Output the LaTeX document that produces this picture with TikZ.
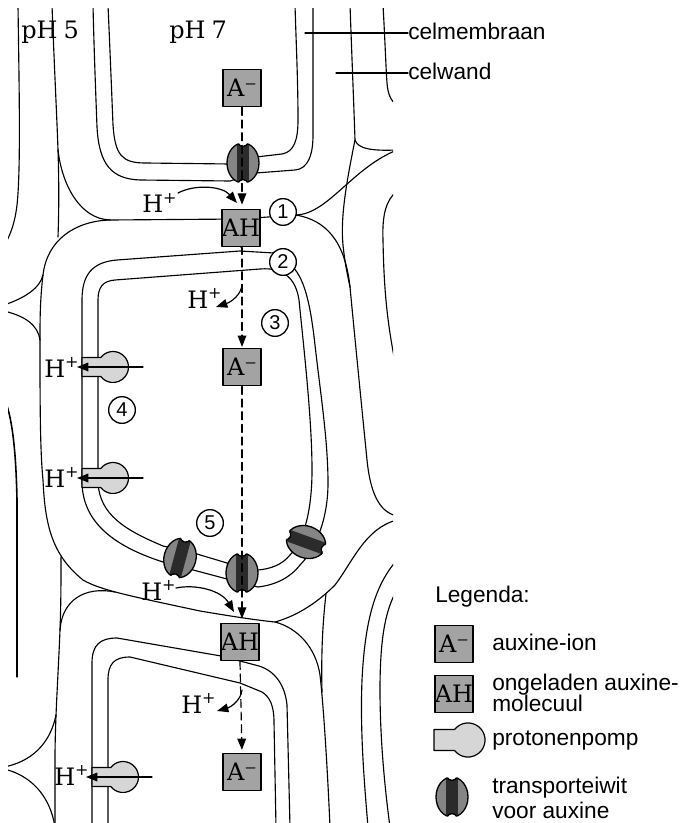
\documentclass[tikz,border=0pt]{standalone}
\usepackage{fontspec}
\setmainfont{DejaVu Serif}
\setsansfont{Liberation Sans}
\usetikzlibrary{arrows.meta}
\definecolor{boxgray}{gray}{0.64}
\definecolor{pgray}{gray}{0.84}
\definecolor{tgray}{gray}{0.52}
\definecolor{tdark}{gray}{0.17}
\newcommand{\Hplus}{H\raisebox{0.4em}{\fontsize{12}{12}\selectfont +}}
\newcommand{\transp}[2]{%
  \begin{scope}[shift={#1},rotate=#2]
    \fill[tgray] (0,0) ellipse [x radius=16,y radius=20];
    \begin{scope}
      \clip (0,0) ellipse [x radius=16,y radius=20];
      \fill[tdark] (-6,-22) rectangle (6,22);
    \end{scope}
    \draw[line width=1pt] (0,0) ellipse [x radius=16,y radius=20];
    \fill[white] (0,-21) ellipse [x radius=5,y radius=4.5];
    \fill[white] (0,21) ellipse [x radius=5,y radius=4.5];
    \begin{scope}
      \clip (0,0) ellipse [x radius=16,y radius=20];
      \draw[line width=1pt] (0,-21) ellipse [x radius=5,y radius=4.5];
      \draw[line width=1pt] (0,21) ellipse [x radius=5,y radius=4.5];
    \end{scope}
  \end{scope}}
\newcommand{\pumpshape}[2]{%
  \begin{scope}[shift={#1},scale=#2]
    \filldraw[fill=pgray,line width=0.9pt] (-31,-9.5) -- (-12.25,-9.5)
      arc[start angle=-142.2,end angle=142.2,radius=15.5] -- (-31,9.5) -- cycle;
  \end{scope}}
\begin{document}
\begin{tikzpicture}[x=0.75pt,y=-0.75pt,line cap=round,line join=round,
  cell/.style={line width=0.85pt},
  abox/.style={draw,line width=1.1pt,fill=boxgray,minimum width=28.5pt,minimum height=28pt,inner sep=0pt,font=\fontsize{18}{18}\selectfont},
  num/.style={circle,draw,fill=white,line width=1pt,minimum size=20pt,inner sep=0pt,font=\sffamily\fontsize{15}{15}\selectfont},
  hlab/.style={inner sep=0pt,anchor=base west,font=\fontsize{18}{18}\selectfont},
  slab/.style={inner sep=0pt,anchor=base west,font=\sffamily\fontsize{17}{17}\selectfont},
  arr/.style={-{Triangle[length=8.5pt,width=6.5pt]},line width=0.9pt},
  dsh/.style={dash pattern=on 6pt off 3.5pt,line width=0.9pt}]
\useasboundingbox (0,0) rectangle (683,823);

\begin{scope}
\clip (8,9) rectangle (393,823);
% far left
\draw[cell] (18,5) .. controls (19,80) and (21,170) .. (17,205) .. controls (15,222) and (11,234) .. (4,246);
\draw[cell,line width=1.2pt] (4,398) .. controls (12,415) and (16,450) .. (17,500) -- (17,607);
\draw[cell] (17,607) -- (17,677);
% upper cell wall, intercellular spaces
\draw[cell] (52,5) .. controls (54,60) and (57,120) .. (58,150) .. controls (59,180) and (59,210) .. (58,237);
\draw[cell] (58,150) .. controls (62,185) and (80,219) .. (110,220) -- (240,219) -- (296,215);
\draw[cell] (296,215) .. controls (328,214) and (352,168) .. (397,150);
\draw[cell] (296,215) .. controls (325,220) and (345,240) .. (350,287);
\draw[cell] (350,5) .. controls (352,60) and (354,110) .. (355,140) .. controls (358,149) and (372,151) .. (397,150);
\draw[cell] (355,140) .. controls (348,175) and (340,215) .. (343,245) .. controls (345,265) and (348,277) .. (350,287);
\draw[cell] (350,287) .. controls (356,350) and (364,430) .. (367,460) .. controls (370,490) and (378,512) .. (397,516);
\draw[cell] (383,5) .. controls (385,40) and (386,70) .. (387,83) .. controls (388,95) and (391,101) .. (397,105);
\draw[cell] (397,191) .. controls (386,200) and (382,215) .. (383,240) .. controls (384,300) and (389,330) .. (395,362);
% upper cell membrane
\draw[cell] (108,5) .. controls (110,50) and (112,100) .. (113,125) .. controls (115,155) and (122,163) .. (145,163) -- (230,164) -- (256,157) -- (282,154) .. controls (294,152) and (298,140) .. (298,120) .. controls (298,80) and (296,40) .. (295,5);
\draw[cell] (93,5) .. controls (94,50) and (96,100) .. (97,127) .. controls (99,165) and (112,179) .. (140,180) -- (230,181) -- (256,173) -- (295,170) .. controls (308,169) and (313,155) .. (313,135) -- (313,5);
% middle cell wall
\draw[cell] (110,220) .. controls (75,221) and (47,240) .. (43,275) .. controls (40,300) and (40,320) .. (40,340) .. controls (40,400) and (40,450) .. (43,480) .. controls (45,525) and (52,555) .. (83,580) .. controls (100,590) and (130,596) .. (200,611) .. controls (230,616) and (255,620) .. (275,622) .. controls (300,615) and (320,600) .. (335,585) .. controls (352,563) and (365,528) .. (397,520);
\draw[cell] (61,557) .. controls (61,580) and (61,605) .. (60,630);
\draw[cell] (4,305) .. controls (25,298) and (40,288) .. (43,275);
\draw[cell] (4,311) .. controls (25,316) and (38,325) .. (40,340);
% bottom cell wall
\draw[cell] (115,592) .. controls (85,586) and (62,600) .. (60,630) .. controls (58,680) and (55,720) .. (55,760) -- (55,827);
\draw[cell] (4,767) .. controls (30,762) and (50,745) .. (56,715);
\draw[cell] (4,769) .. controls (30,775) and (50,795) .. (55,827);
\draw[cell] (326,594) .. controls (323,620) and (321,650) .. (322,692);
\draw[cell] (275,622) .. controls (298,628) and (316,648) .. (320,675) .. controls (324,710) and (328,780) .. (330,827);
% right cells, lower
\draw[cell] (397,560) .. controls (375,585) and (365,620) .. (362,680) .. controls (360,730) and (364,780) .. (368,827);
\draw[cell] (397,590) .. controls (385,610) and (380,640) .. (380,690) .. controls (380,740) and (385,790) .. (390,827);
% middle cell membrane
\draw[cell] (274,253) -- (240,251) -- (117,260) .. controls (92,262) and (82,275) .. (82,300) -- (82,483) .. controls (83,520) and (110,545) .. (163,562) -- (197,571) -- (227,579) -- (258,587) .. controls (275,585) and (290,578) .. (300,565) .. controls (315,550) and (328,520) .. (328,483) .. controls (328,440) and (320,390) .. (315,345) .. controls (311,310) and (306,280) .. (292,266);
\draw[cell] (260,269) .. controls (285,267) and (296,280) .. (299,300) .. controls (304,350) and (312,420) .. (312,470) .. controls (312,520) and (300,545) .. (290,555) .. controls (282,565) and (270,569) .. (258,570) -- (227,563) -- (197,554) -- (163,546) .. controls (125,530) and (100,515) .. (98,483) -- (98,300) .. controls (98,287) and (103,281) .. (115,280) -- cycle;
% bottom cell membrane
\draw[cell] (92,827) -- (92,663) .. controls (92,645) and (100,638) .. (117,638) -- (221,656) -- (259,666) .. controls (275,671) and (285,685) .. (287,705) -- (290,827);
\draw[cell] (108,827) -- (108,680) .. controls (108,664) and (114,657) .. (130,657) -- (240,683) -- (262,692) .. controls (270,697) and (274,706) .. (274,722) -- (276,827);
\end{scope}

% transport proteins
\transp{(243,163)}{0}
\transp{(180,558)}{-15}
\transp{(242,573)}{0}
\transp{(306,542)}{70}
\transp{(452,797)}{0}
% proton pumps
\pumpshape{(113,367)}{1}
\pumpshape{(113,478)}{1}
\pumpshape{(123,777)}{1}
\pumpshape{(468,740)}{1.1}

% auxin boxes
\node[abox] (a1) at (242,88) {A⁻};
\node[abox] (ah1) at (241,228) {AH};
\node[abox] (a2) at (242,367) {A⁻};
\node[abox] (ah2) at (240,642) {AH};
\node[abox] (a3) at (242,772) {A⁻};
\node[abox] (la) at (454,644) {A⁻};
\node[abox] (lah) at (454,694) {AH};

% numbers
\node[num] (n1) at (283,212) {1};
\node[num] (n2) at (283,262) {2};
\node[num] (n3) at (275,323) {3};
\node[num] (n4) at (122,410) {4};
\node[num] (n5) at (210,523) {5};

% labels
\node[hlab] (ph5) at (21,39) {pH\hspace{0.25em}5};
\node[hlab] (ph7) at (169,39) {pH\hspace{0.25em}7};
\node[hlab] (hA) at (142,213) {\Hplus};
\node[hlab] (hB) at (187,308) {\Hplus};
\node[hlab] (hC) at (141,600) {\Hplus};
\node[hlab] (hD) at (181,713) {\Hplus};
\node[hlab] (hP1) at (44,377) {\Hplus};
\node[hlab] (hP2) at (44,487) {\Hplus};
\node[hlab] (hP3) at (54,785) {\Hplus};

\node[slab] (lm) at (408,40) {celmembraan};
\node[slab] (lw) at (408,80) {celwand};
\coordinate (cm0) at (305,33);
\coordinate (cw0) at (336,73);
\draw[line width=0.8pt] (cm0) -- (cm0 -| lm.west);
\draw[line width=0.8pt] (cw0) -- (cw0 -| lw.west);

\node[slab] (lg) at (435,602) {Legenda:};
\node[slab] (l1) at (492,650) {auxine-ion};
\node[slab] (l2) at (492,690) {ongeladen auxine-};
\node[slab] (l2b) at (492,711) {molecuul};
\node[slab] (l3) at (492,745) {protonenpomp};
\node[slab] (l4) at (492,793) {transporteiwit};
\node[slab] (l4b) at (492,818) {voor auxine};

% dashed flow of auxin
\draw[dsh,arr,shorten >=3pt] (a1.south) -- (a1.south |- ah1.north);
\draw[dsh,arr,shorten >=0.5pt] (ah1.south) -- (ah1.south -| a2.north) -- (a2.north);
\draw[dsh,arr,shorten >=3pt] (a2.south) -- (a2.south |- ah2.north);
\draw[dsh,arr,shorten >=2pt] (ah2.south) -- (a3.north);

% H+ arrows
\coordinate (c1s) at (178,193); \coordinate (c1e) at (237,203);
\draw[arr] (c1s) .. controls (195,184) and (222,186) .. (c1e);
\coordinate (c2s) at (242,285); \coordinate (c2e) at (216,307);
\draw[arr] (c2s) .. controls (241,295) and (231,302) .. (c2e);
\coordinate (c3s) at (176,588); \coordinate (c3e) at (234,612);
\draw[arr] (c3s) .. controls (195,584) and (221,590) .. (c3e);
\coordinate (c4s) at (242,690); \coordinate (c4e) at (217,711);
\draw[arr] (c4s) .. controls (241,700) and (231,707) .. (c4e);
\coordinate (p1s) at (143,367); \coordinate (p1e) at (77,367);
\draw[arr] (p1s) -- (p1e);
\coordinate (p2s) at (143,478); \coordinate (p2e) at (77,478);
\draw[arr] (p2s) -- (p2e);
\coordinate (p3s) at (152,777); \coordinate (p3e) at (86,777);
\draw[arr] (p3s) -- (p3e);
\end{tikzpicture}
\end{document}
